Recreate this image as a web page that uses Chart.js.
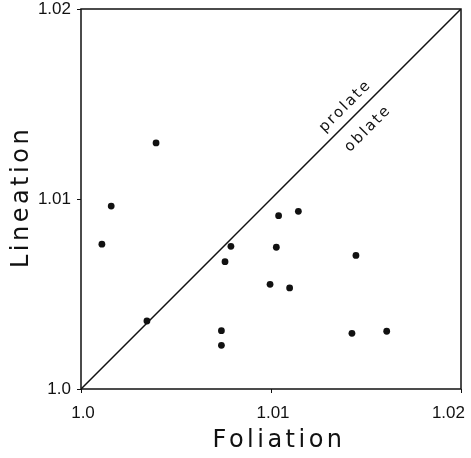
<!DOCTYPE html>
<html>
<head>
<meta charset="utf-8">
<script src="https://cdn.jsdelivr.net/npm/chart.js@4/dist/chart.umd.min.js"></script>
<style>
  html, body { margin: 0; padding: 0; background: #fff; }
  #wrap { width: 471px; height: 458px; }
</style>
</head>
<body>
<div id="wrap"><canvas id="chart" width="471" height="458"></canvas></div>
<script>
/* Foliation vs Lineation — strain ratios */
const foliation = [1.00395, 1.00159, 1.0011, 1.00789, 1.00758, 1.00347, 1.00739, 1.00739,
                   1.00995, 1.0104, 1.01028, 1.01144, 1.01098, 1.01447, 1.01426, 1.01609];
const lineation = [1.01295, 1.00963, 1.00762, 1.00751, 1.0067, 1.00358, 1.00307, 1.0023,
                   1.00551, 1.00912, 1.00746, 1.00935, 1.00532, 1.00703, 1.00293, 1.00304];

const tickValues = [1.0, 1.01, 1.02];
const xTickLabels = ['1.0', '1.01', '1.02'];
const yTickLabels = ['1.0', '1.01', '1.02'];

const divider = [1.0, 1.02];          // prolate / oblate boundary (x = y)
const fieldLabels = ['prolate', 'oblate'];
const fieldLabelAt = 1.0144;          // position along the divider

const points = foliation.map((f, i) => ({ x: f, y: lineation[i] }));
const dividerLine = divider.map(v => ({ x: v, y: v }));

const INK = '#111';
const FONT = '"Liberation Sans", Arial, sans-serif';
const TITLE_FONT = '"DejaVu Sans", sans-serif';

/* frame, x tick labels, axis titles and field labels */
const decorations = {
  id: 'decorations',
  afterDraw(chart) {
    const { ctx, chartArea: a, scales } = chart;
    ctx.save();
    ctx.strokeStyle = INK;
    ctx.lineWidth = 1.5;
    ctx.strokeRect(a.left, a.top, a.right - a.left, a.bottom - a.top);

    ctx.fillStyle = INK;
    ctx.textBaseline = 'middle';

    // x tick labels: last one kept inside the canvas
    ctx.font = '17px ' + FONT;
    tickValues.forEach((v, i) => {
      const x = scales.x.getPixelForValue(v);
      const last = i === tickValues.length - 1;
      ctx.textAlign = last ? 'right' : 'center';
      ctx.fillText(xTickLabels[i], last ? x + 4 : x + 2, a.bottom + 24);
    });

    ctx.textAlign = 'center';
    ctx.font = '24px ' + TITLE_FONT;
    ctx.letterSpacing = '3.5px';
    ctx.fillText('Foliation', (a.left + a.right) / 2 + 8, 441);
    ctx.save();
    ctx.translate(22, (a.top + a.bottom) / 2);
    ctx.rotate(-Math.PI / 2);
    ctx.fillText('Lineation', 2, 0);
    ctx.restore();

    const px = scales.x.getPixelForValue(fieldLabelAt);
    const py = scales.y.getPixelForValue(fieldLabelAt);
    ctx.font = '15px ' + TITLE_FONT;
    ctx.letterSpacing = '2px';
    const offsets = [-13, 19];
    fieldLabels.forEach((t, i) => {
      ctx.save();
      ctx.translate(px, py);
      ctx.rotate(-Math.PI / 4);
      ctx.fillText(t, 0, offsets[i]);
      ctx.restore();
    });
    ctx.restore();
  }
};

new Chart(document.getElementById('chart'), {
  type: 'scatter',
  data: {
    datasets: [
      {
        type: 'line',
        data: dividerLine,
        borderColor: INK,
        borderWidth: 1.5,
        pointRadius: 0,
        fill: false
      },
      {
        data: points,
        backgroundColor: INK,
        borderColor: INK,
        pointRadius: 3.4,
        borderWidth: 0
      }
    ]
  },
  plugins: [decorations],
  options: {
    responsive: false,
    animation: false,
    layout: { padding: { top: 9, right: 10, left: 0, bottom: 0 } },
    plugins: { legend: { display: false }, tooltip: { enabled: false } },
    scales: {
      x: {
        type: 'linear',
        min: 1.0,
        max: 1.02,
        afterBuildTicks: s => { s.ticks = tickValues.map(v => ({ value: v })); },
        afterFit: s => { s.height = 69; s.paddingLeft = 0; s.paddingRight = 0; },
        grid: { drawOnChartArea: false, drawTicks: true, tickLength: 4, color: INK },
        border: { display: false },
        ticks: { display: false }
      },
      y: {
        type: 'linear',
        min: 1.0,
        max: 1.02,
        afterBuildTicks: s => { s.ticks = tickValues.map(v => ({ value: v })); },
        afterFit: s => { s.width = 81; s.paddingTop = 0; s.paddingBottom = 0; },
        grid: { drawOnChartArea: false, drawTicks: true, tickLength: 4, color: INK },
        border: { display: false },
        ticks: {
          color: INK,
          font: { family: FONT, size: 17 },
          padding: 6,
          autoSkip: false,
          callback: (v, i) => yTickLabels[i]
        }
      }
    }
  }
});
</script>
</body>
</html>
